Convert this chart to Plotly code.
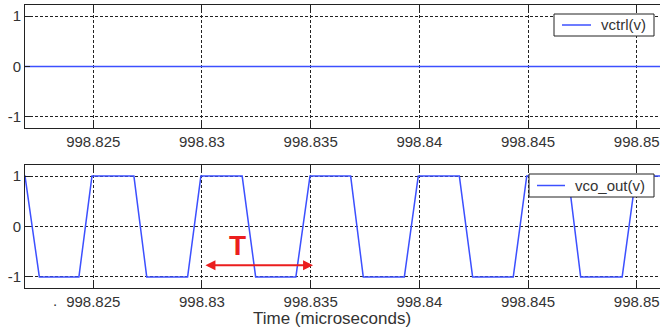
import plotly.graph_objects as go

# ---- data ----
t_ctrl = [998.8210, 998.8520]
v_ctrl = [0.0, 0.0]

t_vco = [998.8214, 998.82186, 998.82252, 998.82434, 998.82494, 998.82687, 998.82746,
         998.82934, 998.82995, 998.83185, 998.83247, 998.83432, 998.83497, 998.83684,
         998.83742, 998.83931, 998.83995, 998.84184, 998.84245, 998.84432, 998.84494,
         998.84685, 998.84742, 998.84933, 998.84996, 998.8520]
v_vco = [1, 1, -1, -1, 1, 1, -1, -1, 1, 1, -1, -1, 1, 1, -1, -1, 1, 1, -1, -1, 1, 1,
         -1, -1, 1, 1]

series_names = ["vctrl(v)", "vco_out(v)"]

x_ticks = [998.825, 998.83, 998.835, 998.84, 998.845, 998.85]
x_ticktext = ["998.825", "998.83", "998.835", "998.84", "998.845", "998.85"]
y_ticks = [-1, 0, 1]
y_ticktext = ["-1", "0", "1"]

x_range = [998.82186, 998.85107]
y_range = [-1.22, 1.22]

# period marker (T) in data units
period_start = 998.83009
period_end = 998.83511
period_level = -0.77
T_label_x = 998.83163
T_label_y = -0.38

BLUE = "rgb(60,80,255)"
RED = "rgb(235,30,30)"
FONT = "Liberation Sans, Arial, sans-serif"
EDGE = "#222"

ML, MR, MT, MB = 25, 0, 5, 44
W, H = 660, 332
PW, PH = W - ML - MR, H - MT - MB


def px_x(p):
    return (p - ML) / PW


def px_y(p):
    return (H - MB - p) / PH


fig = go.Figure()
fig.add_trace(go.Scatter(x=t_ctrl, y=v_ctrl, mode="lines", name=series_names[0],
                         line=dict(color=BLUE, width=1.5), xaxis="x", yaxis="y",
                         showlegend=False))
fig.add_trace(go.Scatter(x=t_vco, y=v_vco, mode="lines", name=series_names[1],
                         line=dict(color=BLUE, width=1.5), xaxis="x2", yaxis="y2",
                         showlegend=False))

axis_common = dict(
    showline=True, linecolor=EDGE, linewidth=1,
    ticks="inside", ticklen=5, tickcolor=EDGE,
    showgrid=True, gridcolor=EDGE, gridwidth=1, griddash="3px,2px",
    zeroline=False, automargin=False,
    tickfont=dict(family=FONT, size=15, color="#333"),
)

# MATLAB-style legend boxes (box left/right/top/bottom, sample line span, text x) in px
legend_boxes = [
    (554, 654, 14, 36, 562, 591, 599),
    (529, 654, 174, 197, 537, 565, 573),
]
shapes = []
annotations = []
for name, (x0, x1, y0, y1, l0, l1, tx) in zip(series_names, legend_boxes):
    ym = (y0 + y1) / 2
    shapes.append(dict(type="rect", xref="paper", yref="paper", layer="above",
                       x0=px_x(x0), x1=px_x(x1), y0=px_y(y1), y1=px_y(y0),
                       fillcolor="white", line=dict(color=EDGE, width=1)))
    shapes.append(dict(type="line", xref="paper", yref="paper", layer="above",
                       x0=px_x(l0), x1=px_x(l1), y0=px_y(ym), y1=px_y(ym),
                       line=dict(color=BLUE, width=1.5)))
    annotations.append(dict(x=px_x(tx), y=px_y(ym), xref="paper", yref="paper",
                            text=name, showarrow=False, xanchor="left",
                            yanchor="middle",
                            font=dict(family=FONT, size=15, color="#333")))

annotations += [
    dict(x=period_end, y=period_level, ax=period_start, ay=period_level,
         xref="x2", yref="y2", axref="x2", ayref="y2", text="",
         showarrow=True, arrowside="end+start", arrowhead=2, arrowsize=1,
         arrowwidth=2, arrowcolor=RED),
    dict(x=T_label_x, y=T_label_y, xref="x2", yref="y2", text="<b>T</b>",
         showarrow=False, font=dict(family=FONT, size=28, color=RED)),
    dict(x=px_x(332), y=px_y(318), xref="paper", yref="paper",
         text="Time (microseconds)", showarrow=False, yanchor="middle",
         font=dict(family=FONT, size=17, color="#333")),
    # stray dot seen left of the first lower tick label
    dict(x=998.82325, y=-1.22, xref="x2", yref="y2", text=".",
         showarrow=False, yanchor="top", yshift=-2,
         font=dict(family=FONT, size=15, color="#333")),
]

fig.update_layout(
    width=W, height=H,
    margin=dict(l=ML, r=MR, t=MT, b=MB, autoexpand=False),
    paper_bgcolor="white", plot_bgcolor="white",
    font=dict(family=FONT, color="#333"),
    showlegend=False,
    xaxis=dict(axis_common, domain=[0, 1], range=x_range, anchor="y",
               tickvals=x_ticks, ticktext=x_ticktext, mirror="ticks",
               ticklabelstandoff=0),
    yaxis=dict(axis_common, domain=[px_y(128), 1], range=y_range, anchor="x",
               tickvals=y_ticks, ticktext=y_ticktext, mirror=False),
    xaxis2=dict(axis_common, domain=[0, 1], range=x_range, anchor="y2",
                tickvals=x_ticks, ticktext=x_ticktext, mirror="ticks",
                ticklabelstandoff=0),
    yaxis2=dict(axis_common, domain=[0, px_y(165)], range=y_range, anchor="x2",
                tickvals=y_ticks, ticktext=y_ticktext, mirror=False),
    shapes=shapes,
    annotations=annotations,
)

fig.write_html("out.html", config={"displayModeBar": False},
               post_script="document.body.style.margin='0';")
